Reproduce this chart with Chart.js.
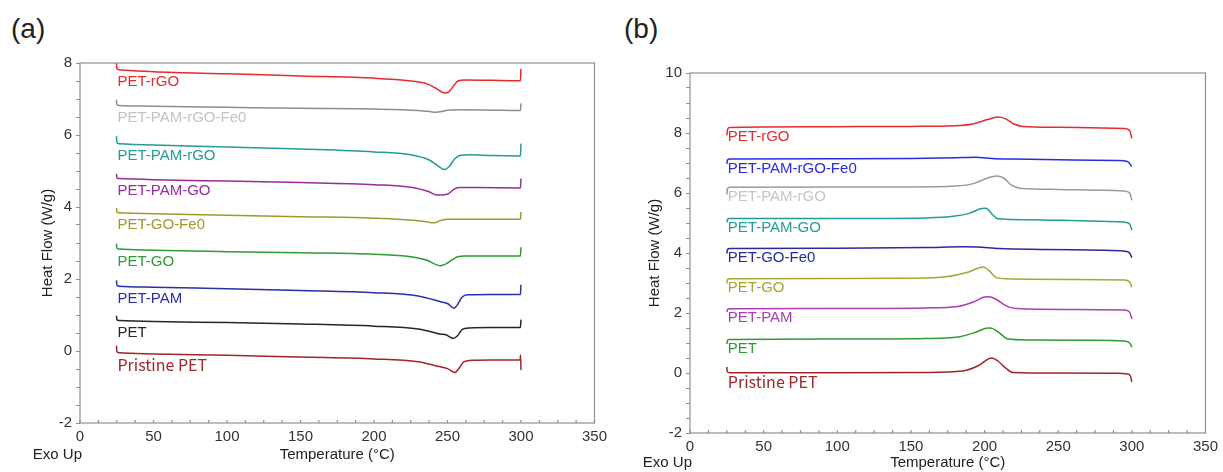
<!doctype html>
<html>
<head>
<meta charset="utf-8">
<script src="https://cdn.jsdelivr.net/npm/chart.js@4.4.0/dist/chart.umd.min.js"></script>
<style>
  body { margin: 0; background: #fff; width: 1223px; height: 472px; overflow: hidden; position: relative;
         font-family: 'Liberation Sans', Arial, sans-serif; }
  .panel { position: absolute; top: 0; }
  .tag { position: absolute; top: 13px; font-size: 28px; color: #222; }
</style>
<title>DSC curves</title>
</head>
<body>
<div class="tag" style="left:11px">(a)</div>
<div class="tag" style="left:624px">(b)</div>
<canvas id="chartA" class="panel" width="612" height="472" style="left:0"></canvas>
<canvas id="chartB" class="panel" width="611" height="472" style="left:612px"></canvas>
<script>
// sample names, top to bottom
const names = ['PET-rGO', 'PET-PAM-rGO-Fe0', 'PET-PAM-rGO', 'PET-PAM-GO', 'PET-GO-Fe0', 'PET-GO', 'PET-PAM', 'PET', 'Pristine PET']
const namesB = ['PET-rGO', 'PET-PAM-rGO-Fe0', 'PET-PAM-rGO', 'PET-PAM-GO', 'PET-GO-Fe0', 'PET-GO', 'PET-PAM', 'PET', 'Pristine PET']

// (a) heating, [temperature °C, heat flow W/g]
const a_PET_rGO = [[24.8,8.02],[25.1,7.85],[26.5,7.81],[50,7.76],[100,7.7],[150,7.64],[200,7.58],[225,7.5],[236,7.42],[242,7.3],[248,7.17],[251,7.2],[254,7.36],[257,7.5],[262,7.53],[280,7.52],[299.6,7.51],[300,7.84]]
const a_PET_PAM_rGO_Fe0 = [[24.8,6.98],[25.1,6.85],[26.5,6.82],[50,6.8],[100,6.77],[150,6.74],[200,6.72],[230,6.68],[238,6.65],[242,6.63],[246,6.65],[250,6.69],[260,6.7],[280,6.69],[299.6,6.68],[300,6.88]]
const a_PET_PAM_rGO = [[24.8,5.97],[25.1,5.79],[26.5,5.76],[50,5.72],[100,5.67],[150,5.61],[200,5.53],[225,5.45],[237,5.32],[244,5.13],[248,5.04],[251,5.12],[255,5.34],[259,5.44],[265,5.45],[280,5.43],[299.6,5.42],[300,5.76]]
const a_PET_PAM_GO = [[24.8,4.92],[25.1,4.81],[26.5,4.79],[50,4.76],[100,4.72],[150,4.68],[200,4.62],[228,4.53],[237,4.43],[243,4.33],[248,4.34],[251,4.38],[254,4.48],[258,4.54],[270,4.54],[299.6,4.53],[300,4.79]]
const a_PET_GO_Fe0 = [[24.8,3.97],[25.1,3.86],[26.5,3.84],[50,3.81],[100,3.77],[150,3.73],[200,3.69],[230,3.62],[237,3.58],[241,3.56],[245,3.62],[250,3.66],[270,3.66],[299.6,3.66],[300,3.86]]
const a_PET_GO = [[24.8,2.98],[25.1,2.86],[26.5,2.83],[50,2.8],[100,2.76],[150,2.73],[200,2.69],[225,2.62],[236,2.52],[242,2.4],[245,2.37],[249,2.42],[253,2.53],[257,2.62],[262,2.64],[280,2.64],[299.6,2.64],[300,2.88]]
const a_PET_PAM = [[24.8,1.96],[25.1,1.83],[26.5,1.8],[50,1.77],[100,1.73],[150,1.68],[200,1.62],[230,1.53],[240,1.43],[246,1.36],[250,1.32],[254.5,1.19],[257,1.3],[260,1.5],[264,1.56],[280,1.57],[299.6,1.57],[300,1.84]]
const a_PET = [[24.8,0.98],[25.1,0.87],[26.5,0.85],[50,0.82],[100,0.79],[150,0.75],[200,0.69],[230,0.61],[240,0.52],[245,0.47],[249,0.45],[254,0.35],[257,0.43],[260,0.6],[265,0.64],[280,0.65],[299.6,0.65],[300,0.87]]
const a_Pristine = [[24.8,0.15],[25.1,-0.02],[26.5,-0.05],[50,-0.08],[100,-0.12],[150,-0.17],[200,-0.22],[230,-0.3],[240,-0.39],[245,-0.44],[250,-0.49],[255,-0.6],[258,-0.47],[261,-0.3],[266,-0.26],[280,-0.25],[299.4,-0.25],[299.7,-0.11],[300,-0.53]]

// (b) cooling
const b_PET_rGO = [[25,7.92],[25.5,8.12],[27,8.18],[50,8.2],[100,8.21],[150,8.22],[180,8.24],[192,8.3],[202,8.45],[209,8.53],[214,8.48],[220,8.3],[226,8.22],[250,8.19],[280,8.17],[295,8.15],[298.5,8.08],[300,7.82]]
const b_PET_PAM_rGO_Fe0 = [[25,6.97],[25.5,7.1],[27,7.13],[100,7.14],[150,7.15],[185,7.18],[194,7.19],[205,7.15],[220,7.13],[260,7.1],[290,7.08],[297,7.05],[300,6.88]]
const b_PET_PAM_rGO = [[25,5.95],[25.5,6.15],[27,6.19],[100,6.2],[150,6.2],[180,6.23],[193,6.32],[202,6.5],[208,6.57],[213,6.5],[218,6.27],[224,6.16],[250,6.12],[280,6.09],[295,6.07],[298.5,6.0],[300,5.76]]
const b_PET_PAM_GO = [[25,5.02],[25.5,5.13],[27,5.15],[100,5.15],[160,5.17],[180,5.23],[190,5.33],[198,5.48],[201,5.49],[205,5.3],[209,5.14],[230,5.11],[270,5.07],[295,5.03],[298.5,4.97],[300,4.77]]
const b_PET_GO_Fe0 = [[25,3.98],[25.5,4.12],[27,4.15],[100,4.16],[160,4.18],[185,4.21],[195,4.2],[210,4.15],[240,4.12],[280,4.09],[295,4.06],[298.5,4.0],[300,3.84]]
const b_PET_GO = [[25,2.98],[25.5,3.12],[27,3.14],[100,3.15],[150,3.16],[175,3.22],[188,3.35],[196,3.5],[199,3.53],[203,3.42],[208,3.18],[215,3.14],[260,3.12],[295,3.1],[298.5,3.04],[300,2.86]]
const b_PET_PAM = [[25,2.03],[25.5,2.12],[27,2.14],[100,2.15],[160,2.17],[182,2.22],[193,2.38],[200,2.53],[203,2.54],[208,2.45],[215,2.23],[222,2.15],[260,2.12],[295,2.1],[298.5,2.03],[300,1.8]]
const b_PET = [[25,0.96],[25.5,1.1],[27,1.12],[100,1.13],[160,1.15],[182,1.2],[194,1.36],[201,1.49],[204,1.5],[209,1.38],[216,1.13],[230,1.1],[270,1.09],[295,1.07],[298.5,1.0],[300,0.86]]
const b_Pristine = [[25,0.2],[25.3,0.04],[27,0.01],[100,0.01],[160,0.02],[185,0.07],[196,0.25],[203,0.48],[205,0.5],[209,0.4],[214,0.18],[219,0.02],[250,0],[290,-0.01],[297,-0.03],[299,-0.1],[300,-0.3]]

const seriesA = [a_PET_rGO, a_PET_PAM_rGO_Fe0, a_PET_PAM_rGO, a_PET_PAM_GO, a_PET_GO_Fe0, a_PET_GO, a_PET_PAM, a_PET, a_Pristine]
const seriesB = [b_PET_rGO, b_PET_PAM_rGO_Fe0, b_PET_PAM_rGO, b_PET_PAM_GO, b_PET_GO_Fe0, b_PET_GO, b_PET_PAM, b_PET, b_Pristine]

const lineColorsA = ['#e62a2e', '#8c8c8c', '#239b98', '#9b2a9e', '#9d9a2c', '#2e9b36', '#2b2fa8', '#262626', '#a0252b']
const textColorsA = ['#e62a2e', '#c3c3c3', '#239b98', '#9b2a9e', '#9d9a2c', '#2e9b36', '#2b2fa8', '#262626', '#a0252b']
const lineColorsB = ['#e62a2e', '#2a2ae6', '#9a9a9a', '#239b98', '#2a2a9e', '#a8a632', '#a93db4', '#2e9b36', '#a0252b']
const textColorsB = ['#e62a2e', '#2a2ae6', '#c6c6c6', '#239b98', '#2a2a9e', '#a8a632', '#a93db4', '#2e9b36', '#a0252b']

const FONT = "'Liberation Sans', Arial, sans-serif"
const AXIS = '#8f8f8f'

// frame, inner x ticks, curve names and "Exo Up"
const decor = {
  id: 'decor',
  afterDatasetsDraw(chart, args, opts) {
    const {ctx, chartArea: {left, top, right, bottom}, scales: {x, y}} = chart
    ctx.save()
    ctx.strokeStyle = AXIS
    ctx.lineWidth = 1.2
    ctx.strokeRect(left, top, right - left, bottom - top)
    x.ticks.forEach(t => {
      const px = x.getPixelForValue(t.value)
      ctx.beginPath()
      ctx.moveTo(px, bottom)
      ctx.lineTo(px, bottom - 3)
      ctx.stroke()
    })
    ctx.textAlign = 'left'
    ctx.textBaseline = 'middle'
    chart.data.datasets.forEach(ds => {
      const px = x.getPixelForValue(ds.data[0].x) + 1
      const py = y.getPixelForValue(ds.data[2].y) + opts.gap
      ctx.font = ds.label === 'Pristine PET' ? "16px 'Noto Sans CJK JP'" : '15px ' + FONT
      ctx.fillStyle = ds.textColor
      ctx.fillText(ds.label, px, py)
    })
    ctx.font = '15px ' + FONT
    ctx.fillStyle = '#222'
    ctx.textAlign = 'right'
    ctx.fillText('Exo Up', left + 2, opts.exoY)
    ctx.restore()
  }
}

const makeChart = (id, labels, series, lineColors, textColors, yMax, g) => {
  const ctx = document.getElementById(id).getContext('2d')
  return new Chart(ctx, {
    type: 'line',
    data: {
      datasets: series.map((s, i) => ({
        label: labels[i],
        data: s.map(([x, y]) => ({x, y})),
        borderColor: lineColors[i],
        textColor: textColors[i],
        borderWidth: 1.5,
        pointRadius: 0,
        fill: false,
        cubicInterpolationMode: 'monotone'
      }))
    },
    options: {
      responsive: false,
      animation: false,
      layout: {padding: {left: 0, top: g.top, right: g.right, bottom: 0}},
      plugins: {
        legend: {display: false},
        tooltip: {enabled: false},
        decor: {gap: g.gap, exoY: g.exoY}
      },
      scales: {
        x: {
          type: 'linear', min: 0, max: 350,
          afterFit: s => { s.height = g.xH },
          grid: {display: false, drawTicks: false},
          border: {display: false},
          ticks: {
            stepSize: 12.5, autoSkip: false, maxRotation: 0, padding: 5,
            color: '#333', font: {family: FONT, size: 15},
            callback: v => (v % 50 === 0 ? String(v) : '')
          },
          title: {display: true, text: 'Temperature (°C)', color: '#222',
                  font: {family: FONT, size: 15}, padding: {top: 0, bottom: g.xTitlePad}}
        },
        y: {
          type: 'linear', min: -2, max: yMax,
          afterFit: s => { s.width = g.yW },
          grid: {drawOnChartArea: false, drawTicks: true, tickLength: 4, color: AXIS},
          border: {display: false},
          ticks: {
            stepSize: 0.5, autoSkip: false, padding: 4,
            color: '#333', font: {family: FONT, size: 15},
            callback: v => (v % 2 === 0 ? String(v) : '')
          },
          title: {display: true, text: 'Heat Flow (W/g)', color: '#222',
                  font: {family: FONT, size: 15}, padding: {top: g.yTitlePad, bottom: 0}}
        }
      }
    },
    plugins: [decor]
  })
}

makeChart('chartA', names, seriesA, lineColorsA, textColorsA, 8,
  {top: 63, right: 14, xH: 49, yW: 80, gap: 12.5, exoY: 455, xTitlePad: 8, yTitlePad: 39})
makeChart('chartB', namesB, seriesB, lineColorsB, textColorsB, 10,
  {top: 73, right: 16, xH: 39, yW: 78, gap: 9.5, exoY: 463, xTitlePad: 0, yTitlePad: 34})
</script>
</body>
</html>
